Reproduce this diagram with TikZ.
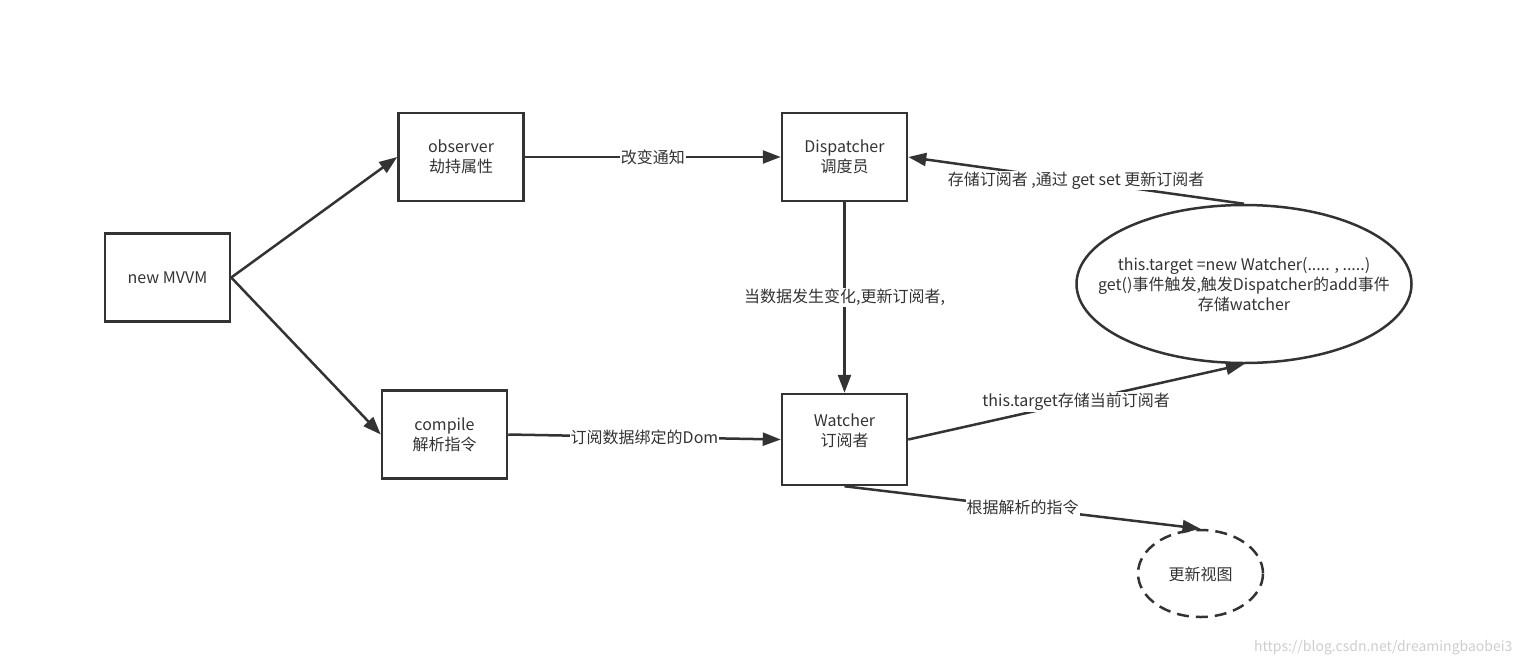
\documentclass[tikz,border=0pt]{standalone}
\usepackage{fontspec}
\setmainfont{Noto Sans CJK SC}
\usetikzlibrary{arrows.meta,shapes.geometric}
\definecolor{ink}{RGB}{51,51,51}
\definecolor{wm}{RGB}{205,205,205}
\tikzset{
  box/.style={draw=ink, line width=2.5pt, rectangle, minimum width=125pt, minimum height=88pt, align=center, text=ink, font=\fontsize{16}{20}\selectfont, inner sep=0pt},
  oval/.style={draw=ink, line width=2.5pt, ellipse, inner sep=0pt},
  txt/.style={align=center, text=ink, font=\fontsize{16}{20}\selectfont, inner sep=0pt},
  conn/.style={draw=ink, line width=2.5pt, -{Triangle[length=18pt,width=13pt]}},
  lbl/.style={fill=white, text=ink, font=\fontsize{16}{20}\selectfont, inner sep=1pt, pos=0.5}
}
\begin{document}
\begin{tikzpicture}[x=1pt,y=-1pt]
\useasboundingbox (0,0) rectangle (1523,665);
\node[box] (m) at (167.5,277.5) {new MVVM};
\node[box] (o) at (461,157) {observer\\劫持属性};
\node[box] (d) at (844.5,157) {Dispatcher\\调度员};
\node[box] (c) at (444.5,434.5) {compile\\解析指令};
\node[box, minimum height=91pt] (w) at (844.5,439.5) {};
\node[txt] (wt) at (844.5,431) {Watcher\\订阅者};
\node[oval, minimum width=335pt, minimum height=158pt] (e) at (1244,284) {};
\node[txt] (et) at (1244,285) {this.target =new Watcher(..... , .....)\\get()事件触发,触发Dispatcher的add事件\\存储watcher};
\node[oval, dashed, dash pattern=on 12pt off 7pt, minimum width=125pt, minimum height=87pt] (v) at (1200.5,573.5) {};
\node[txt] (vt) at (1200.5,574) {更新视图};
\draw[conn] (m.east) -- (o.west);
\draw[conn] (m.east) -- (c.west);
\draw[conn] (o.east) -- node[lbl] {改变通知} (d.west);
\draw[conn] (d.south) -- node[lbl] {当数据发生变化,更新订阅者,} (w.north);
\draw[conn] (e.north) -- node[lbl] {存储订阅者 ,通过 get set 更新订阅者} (d.east);
\draw[conn] (c.east) -- node[lbl] {订阅数据绑定的Dom} (w.west);
\draw[conn] (w.east) -- node[lbl] {this.target存储当前订阅者} (e.south);
\draw[conn] (w.south) -- node[lbl] {根据解析的指令} (v.north);
\node[text=wm, font=\fontsize{14}{16}\selectfont, anchor=east] (wmk) at (1516,648) {https://blog.csdn.net/dreamingbaobei3};
\end{tikzpicture}
\end{document}
